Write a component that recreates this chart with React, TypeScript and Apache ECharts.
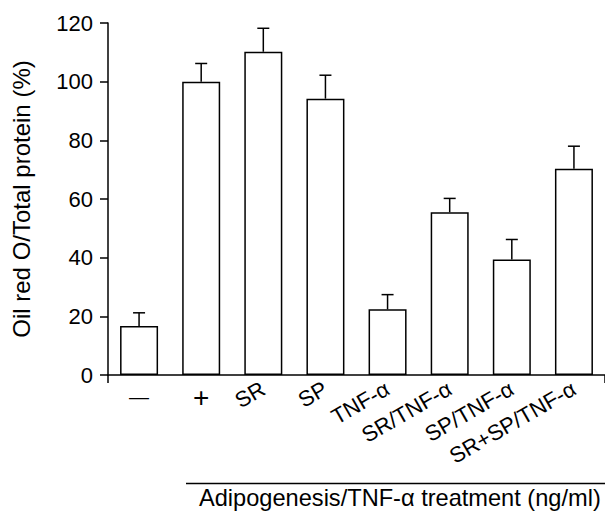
import React, { useEffect, useRef } from "react";
import * as echarts from "echarts";

const categories = ["—", "+", "SR", "SP", "TNF-α", "SR/TNF-α", "SP/TNF-α", "SR+SP/TNF-α"];
const means = [16.7, 100, 110.2, 94.2, 22.4, 55.5, 39.4, 70.3];
const errors = [4.5, 6.2, 8.0, 8.0, 5.0, 4.7, 6.8, 7.7];
const yTicks = { min: 0, max: 120, interval: 20 };
const yName = "Oil red O/Total protein (%)";
const treatmentTitle = "Adipogenesis/TNF-α treatment (ng/ml)";

const FONT = "'Liberation Sans', Arial, Helvetica, sans-serif";

export default function App() {
  const ref = useRef<HTMLDivElement>(null);
  useEffect(() => {
    if (!ref.current) return;
    const chart = echarts.init(ref.current, undefined, { renderer: "svg" });
    const errData = means.map((m, i) => [i, m, m + errors[i]]);
    chart.setOption({
      animation: false,
      backgroundColor: "#fff",
      textStyle: { fontFamily: FONT, color: "#000" },
      grid: { left: 108, top: 23, width: 507, height: 352, containLabel: false },
      xAxis: [
        {
          type: "category",
          data: categories,
          position: "bottom",
          axisLine: { lineStyle: { color: "#000", width: 1.5 } },
          axisTick: { show: true, length: 8, interval: (i: number) => i === 0, lineStyle: { color: "#000", width: 1.5 } },
          axisLabel: {
            interval: (i: number) => i >= 2,
            rotate: 30,
            margin: 12,
            fontSize: 22,
            color: "#000",
            fontFamily: FONT,
          },
          splitLine: { show: false },
        },
        {
          type: "category",
          data: categories,
          position: "bottom",
          axisLine: { show: false },
          axisTick: { show: false },
          axisLabel: {
            interval: (i: number) => i < 2,
            rotate: 0,
            margin: 8,
            color: "#000",
            fontFamily: FONT,
            formatter: (v: string) => (v === "+" ? "{p|+}" : "{m|—}"),
            rich: {
              p: { fontSize: 28, fontFamily: FONT, color: "#000", lineHeight: 28 },
              m: { fontSize: 20, fontFamily: FONT, color: "#000", lineHeight: 28 },
            },
          },
          splitLine: { show: false },
        },
      ],
      yAxis: {
        type: "value",
        min: yTicks.min,
        max: yTicks.max,
        interval: yTicks.interval,
        name: yName,
        nameLocation: "middle",
        nameGap: 75,
        nameTextStyle: { fontSize: 24, color: "#000", fontFamily: FONT },
        axisLine: { show: true, lineStyle: { color: "#000", width: 1.5 } },
        axisTick: { show: true, length: 8, lineStyle: { color: "#000", width: 1.5 } },
        axisLabel: { fontSize: 22, margin: 15, color: "#000", fontFamily: FONT },
        splitLine: { show: false },
      },
      series: [
        {
          type: "bar",
          xAxisIndex: 0,
          data: means,
          barWidth: 38,
          itemStyle: { color: "#fff", borderColor: "#000", borderWidth: 1.5 },
          z: 2,
        },
        {
          type: "custom",
          xAxisIndex: 0,
          data: errData,
          z: 3,
          renderItem: (params: any, api: any) => {
            const base = api.coord([api.value(0), api.value(1)]);
            const top = api.coord([api.value(0), api.value(2)]);
            const half = 6;
            return {
              type: "group",
              children: [
                {
                  type: "line",
                  shape: { x1: base[0], y1: base[1], x2: top[0], y2: top[1] },
                  style: { stroke: "#000", lineWidth: 1.5 },
                },
                {
                  type: "line",
                  shape: { x1: top[0] - half, y1: top[1], x2: top[0] + half, y2: top[1] },
                  style: { stroke: "#000", lineWidth: 1.5 },
                },
              ],
            };
          },
        },
      ],
      graphic: [
        {
          type: "line",
          shape: { x1: 186, y1: 483.5, x2: 605, y2: 483.5 },
          style: { stroke: "#000", lineWidth: 1.5 },
        },
        {
          type: "text",
          x: 199,
          y: 498,
          style: {
            text: treatmentTitle,
            fontSize: 23.6,
            fontFamily: FONT,
            fill: "#000",
            textAlign: "left",
            textVerticalAlign: "middle",
          },
        },
      ],
    });
    return () => chart.dispose();
  }, []);
  return (
    <div
      ref={ref}
      style={{ position: "absolute", left: 0, top: 0, width: 605, height: 512, background: "#fff" }}
    />
  );
}
